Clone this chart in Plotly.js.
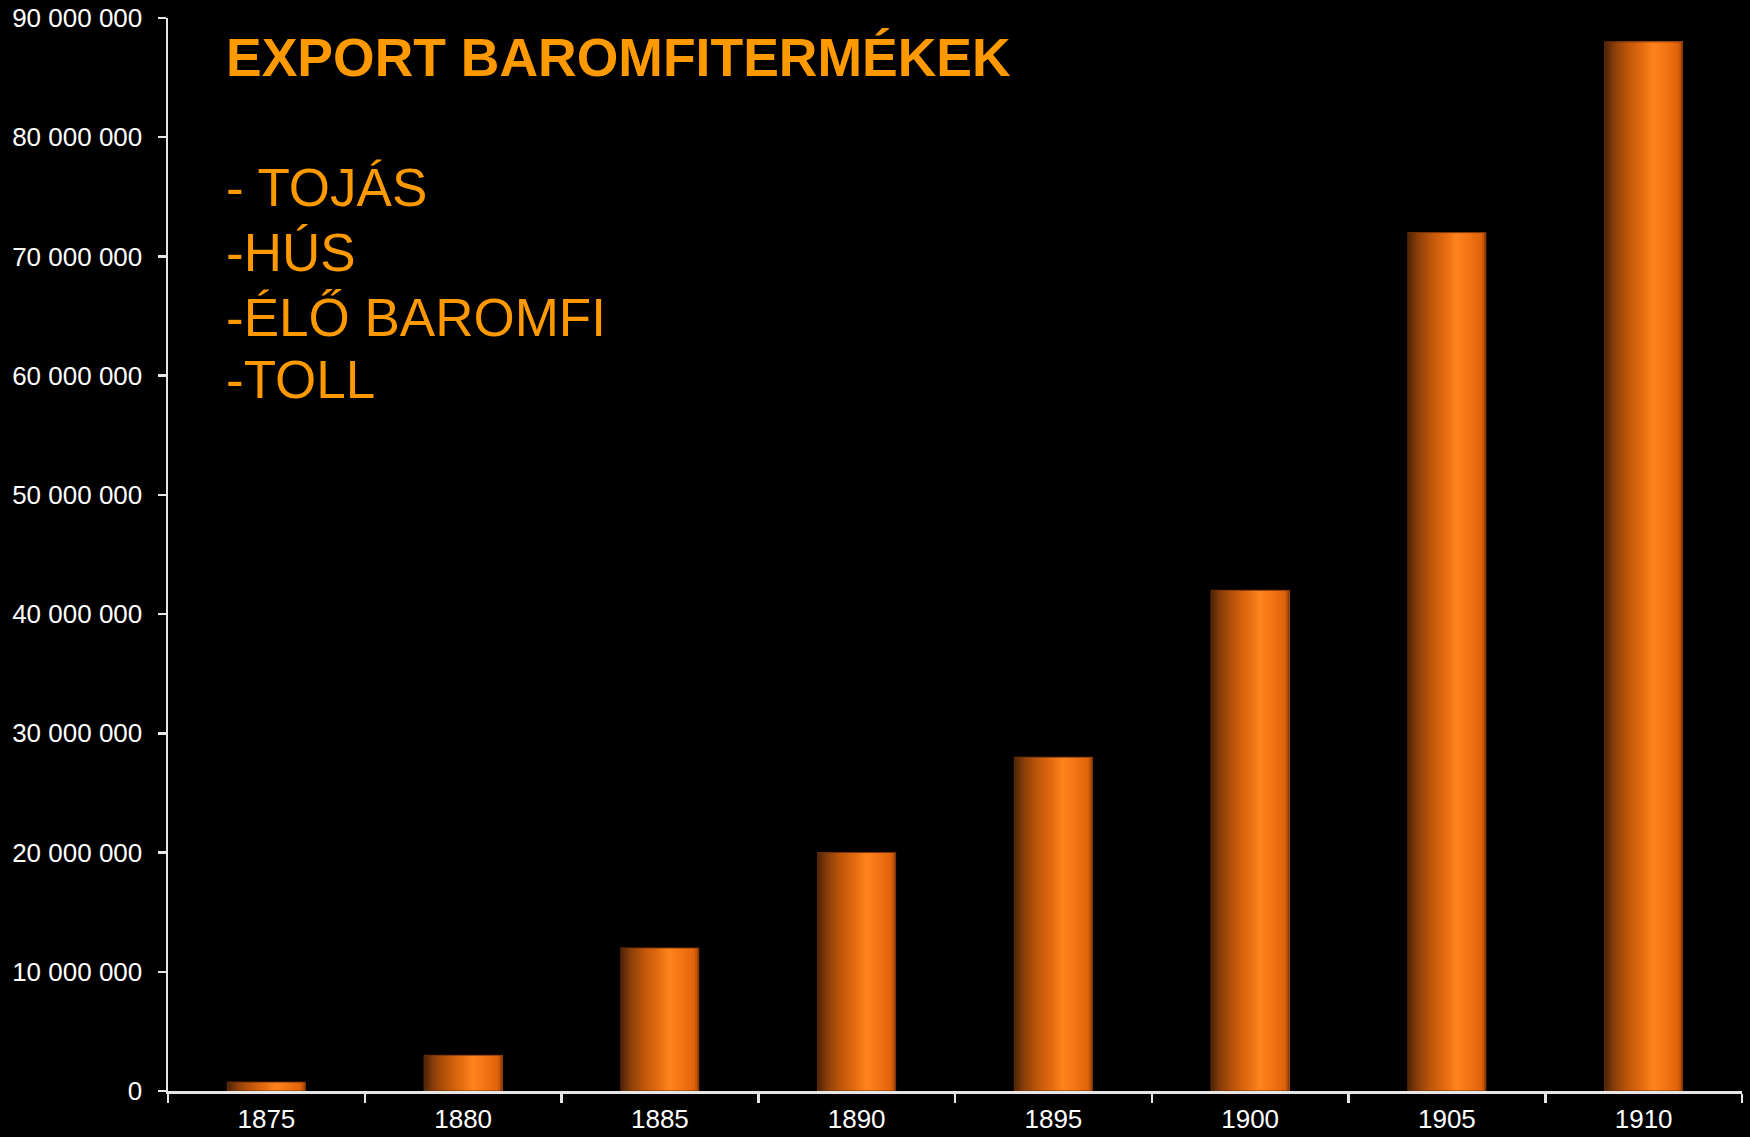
<!DOCTYPE html>
<html>
<head>
<meta charset="utf-8">
<script src="https://cdn.plot.ly/plotly-3.0.1.min.js"></script>
<style>
html,body{margin:0;padding:0;background:#000;}
#chart{width:1750px;height:1137px;}
</style>
</head>
<body>
<div id="chart"></div>
<script>
// ---- data ----
const years = ['1875', '1880', '1885', '1890', '1895', '1900', '1905', '1910'];
const exportValues = [750000, 3000000, 12000000, 20000000, 28000000, 42000000, 72000000, 88000000];
const titleText = 'EXPORT BAROMFITERMÉKEK';
const productLines = ['- TOJÁS', '-HÚS', '-ÉLŐ BAROMFI', '-TOLL'];

// ---- styling helpers ----
const gradStops = [
  [0.00, [74, 34, 6]],
  [0.12, [138, 62, 10]],
  [0.30, [192, 86, 10]],
  [0.48, [228, 108, 16]],
  [0.62, [255, 132, 30]],
  [0.78, [244, 116, 20]],
  [0.95, [222, 98, 10]],
  [1.00, [140, 58, 8]]
];
function gradColor(t) {
  for (let i = 1; i < gradStops.length; i++) {
    if (t <= gradStops[i][0]) {
      const a = gradStops[i - 1], b = gradStops[i];
      const f = (t - a[0]) / (b[0] - a[0]);
      const c = a[1].map((v, k) => Math.round(v + (b[1][k] - v) * f));
      return 'rgb(' + c.join(',') + ')';
    }
  }
  return 'rgb(' + gradStops[gradStops.length - 1][1].join(',') + ')';
}

const barWidth = 0.397;
const N = 40;
const step = barWidth / N;
const traces = [];
for (let i = 0; i < N; i++) {
  traces.push({
    type: 'bar',
    x: years,
    y: exportValues,
    width: barWidth - i * step,
    offset: -barWidth / 2 + i * step,
    marker: { color: gradColor((i + 0.5) / N), line: { width: 0 } },
    hoverinfo: 'skip',
    showlegend: false
  });
}
traces.push({
  type: 'bar',
  x: years,
  y: exportValues,
  width: barWidth,
  offset: -barWidth / 2,
  marker: { color: 'rgba(0,0,0,0)', line: { width: 1, color: 'rgba(110,48,8,0.9)' } },
  hoverinfo: 'skip',
  showlegend: false
});

// plot area in pixels
const L = 168, R = 8, T = 18, B = 46, H = 1137 - T - B, W = 1750 - L - R;
const px = x => (x - L) / W;
const py = y => (1137 - B - y) / H;

const fontFam = '"Liberation Sans", Arial, Helvetica, sans-serif';
const orange = '#ff9900';

const annotations = [{
  xref: 'paper', yref: 'paper', x: px(225), y: py(27), xanchor: 'left', yanchor: 'top',
  text: '<b>' + titleText + '</b>', showarrow: false, borderpad: 0,
  font: { family: fontFam, size: 53.5, color: orange }
}];
const lineTops = [157, 222, 287, 349];
productLines.forEach((t, i) => {
  annotations.push({
    xref: 'paper', yref: 'paper', x: px(225), y: py(lineTops[i]), xanchor: 'left', yanchor: 'top',
    text: t, showarrow: false, borderpad: 0,
    font: { family: fontFam, size: 53, color: orange }
  });
});

const layout = {
  width: 1750, height: 1137,
  paper_bgcolor: '#000', plot_bgcolor: '#000',
  margin: { l: L, r: R, t: T, b: B, pad: 0 },
  barmode: 'overlay',
  separators: ', ',
  font: { family: fontFam, color: '#ffffff', size: 26 },
  xaxis: {
    type: 'category',
    tickson: 'boundaries',
    ticks: 'outside', ticklen: 9, tickwidth: 2.5, tickcolor: '#e6e6e6',
    showline: true, linecolor: '#e6e6e6', linewidth: 2.5,
    showgrid: false, zeroline: false,
    ticklabelstandoff: 3,
    tickfont: { family: fontFam, size: 26, color: '#ffffff' },
    fixedrange: true
  },
  yaxis: {
    range: [0, 90000000],
    dtick: 10000000,
    tickformat: ',d',
    ticks: 'outside', ticklen: 8, tickwidth: 2.5, tickcolor: '#e6e6e6',
    showline: true, linecolor: '#e6e6e6', linewidth: 2.5,
    showgrid: false, zeroline: false,
    ticklabelstandoff: 10,
    tickfont: { family: fontFam, size: 26, color: '#ffffff' },
    fixedrange: true
  },
  annotations: annotations
};

Plotly.newPlot('chart', traces, layout, { staticPlot: true, displayModeBar: false });
</script>
</body>
</html>
